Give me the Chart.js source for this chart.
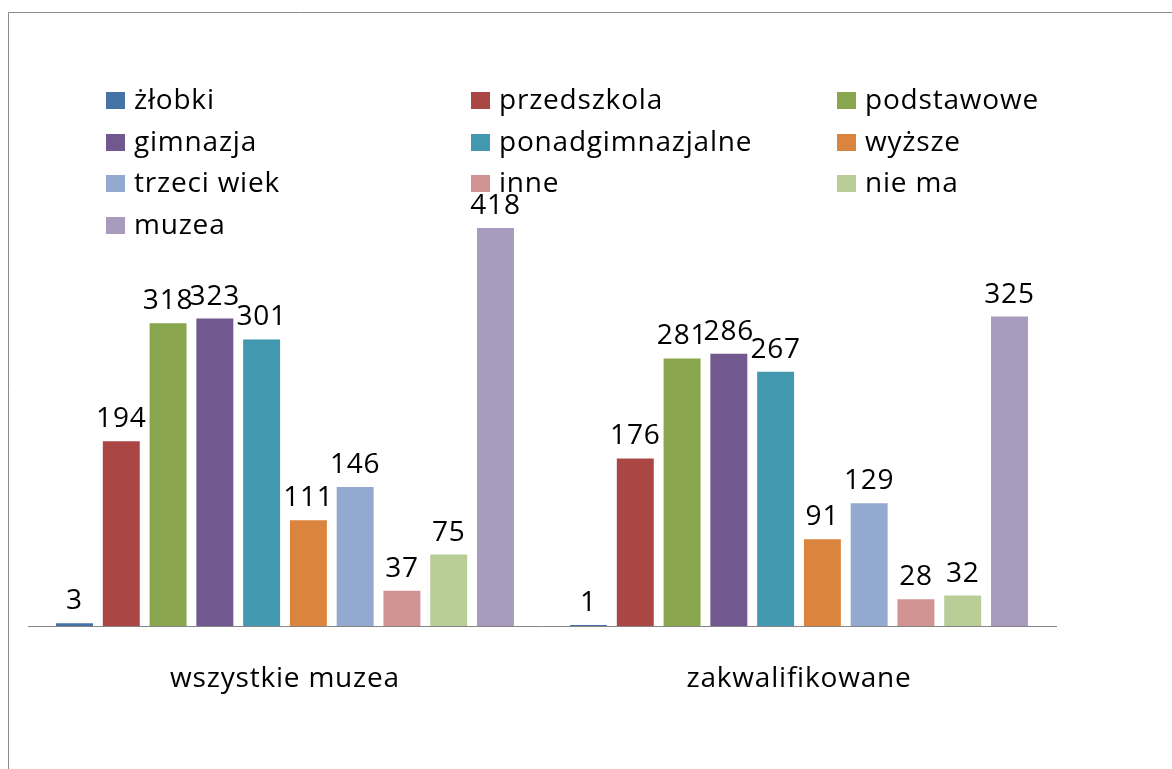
<!DOCTYPE html>
<html>
<head>
<meta charset="utf-8">
<script src="https://cdn.jsdelivr.net/npm/chart.js@4.4.1/dist/chart.umd.min.js"></script>
<style>
html,body{margin:0;padding:0;background:#fff;}
#wrap{position:relative;width:1172px;height:769px;}
</style>
</head>
<body>
<div id="wrap"><canvas id="c" width="1172" height="769"></canvas></div>
<script>
const categories = ["wszystkie muzea", "zakwalifikowane"];
const seriesNames = ["żłobki", "przedszkola", "podstawowe", "gimnazja", "ponadgimnazjalne", "wyższe", "trzeci wiek", "inne", "nie ma", "muzea"];
const zlobki = [3, 1];
const przedszkola = [194, 176];
const podstawowe = [318, 281];
const gimnazja = [323, 286];
const ponadgimnazjalne = [301, 267];
const wyzsze = [111, 91];
const trzeciWiek = [146, 129];
const inne = [37, 28];
const nieMa = [75, 32];
const muzea = [418, 325];
const seriesValues = [zlobki, przedszkola, podstawowe, gimnazja, ponadgimnazjalne, wyzsze, trzeciWiek, inne, nieMa, muzea];
const colors = ["#4572A7", "#AA4643", "#89A54E", "#71588F", "#4198AF", "#DB843D", "#93A9CF", "#D19392", "#B9CD96", "#A99BBD"];
const yMax = 500;

const FONT = '"Open Sans", "DejaVu Sans", sans-serif';
const FSIZE = 28;
const LSP = '0.8px';

const framePlugin = {
  id: 'frame',
  beforeDraw(chart) {
    const ctx = chart.ctx;
    ctx.save();
    ctx.fillStyle = '#fff';
    ctx.fillRect(0, 0, chart.width, chart.height);
    ctx.strokeStyle = '#8a8a8a';
    ctx.lineWidth = 1;
    ctx.beginPath();
    ctx.moveTo(8.5, chart.height);
    ctx.lineTo(8.5, 12.5);
    ctx.lineTo(chart.width, 12.5);
    ctx.stroke();
    ctx.restore();
    ctx.letterSpacing = LSP;
  }
};

const legendPlugin = {
  id: 'customLegend',
  afterDraw(chart) {
    const ctx = chart.ctx;
    ctx.save();
    ctx.letterSpacing = LSP;
    ctx.font = FSIZE + 'px ' + FONT;
    ctx.textBaseline = 'alphabetic';
    ctx.textAlign = 'left';
    ctx.fillStyle = '#000';
    const colX = [106, 471, 837];
    const rowY = [109, 151, 192, 234];
    chart.data.datasets.forEach((ds, i) => {
      const col = i % 3, row = Math.floor(i / 3);
      const x = colX[col], yb = rowY[row];
      ctx.fillStyle = ds.backgroundColor;
      ctx.fillRect(x, yb - 17, 19, 17);
      ctx.fillStyle = '#000';
      ctx.fillText(ds.label, x + 28, yb);
    });
    ctx.restore();
  }
};

const valueLabelPlugin = {
  id: 'valueLabels',
  afterDatasetsDraw(chart) {
    const ctx = chart.ctx;
    ctx.save();
    ctx.letterSpacing = LSP;
    ctx.font = FSIZE + 'px ' + FONT;
    ctx.textAlign = 'center';
    ctx.textBaseline = 'alphabetic';
    ctx.fillStyle = '#000';
    chart.data.datasets.forEach((ds, i) => {
      const meta = chart.getDatasetMeta(i);
      meta.data.forEach((bar, j) => {
        ctx.fillText(String(ds.data[j]), bar.x, bar.y - 14);
      });
    });
    ctx.restore();
  }
};

new Chart(document.getElementById('c'), {
  type: 'bar',
  data: {
    labels: categories,
    datasets: seriesNames.map((name, i) => ({
      label: name,
      data: seriesValues[i],
      backgroundColor: colors[i],
      borderWidth: 0,
      categoryPercentage: 0.91,
      barPercentage: 0.79
    }))
  },
  options: {
    responsive: false,
    animation: false,
    devicePixelRatio: 1,
    layout: { padding: { left: 28, right: 116, top: 150, bottom: 0 } },
    plugins: { legend: { display: false }, tooltip: { enabled: false } },
    scales: {
      x: {
        grid: { display: false, drawTicks: false },
        border: { display: true, color: '#868686', width: 1 },
        ticks: { color: '#000', font: { size: FSIZE, family: FONT }, padding: 36, maxRotation: 0 },
        afterFit(scale) { scale.height = 143; }
      },
      y: {
        display: false,
        min: 0,
        max: yMax
      }
    }
  },
  plugins: [framePlugin, legendPlugin, valueLabelPlugin]
});
</script>
</body>
</html>
